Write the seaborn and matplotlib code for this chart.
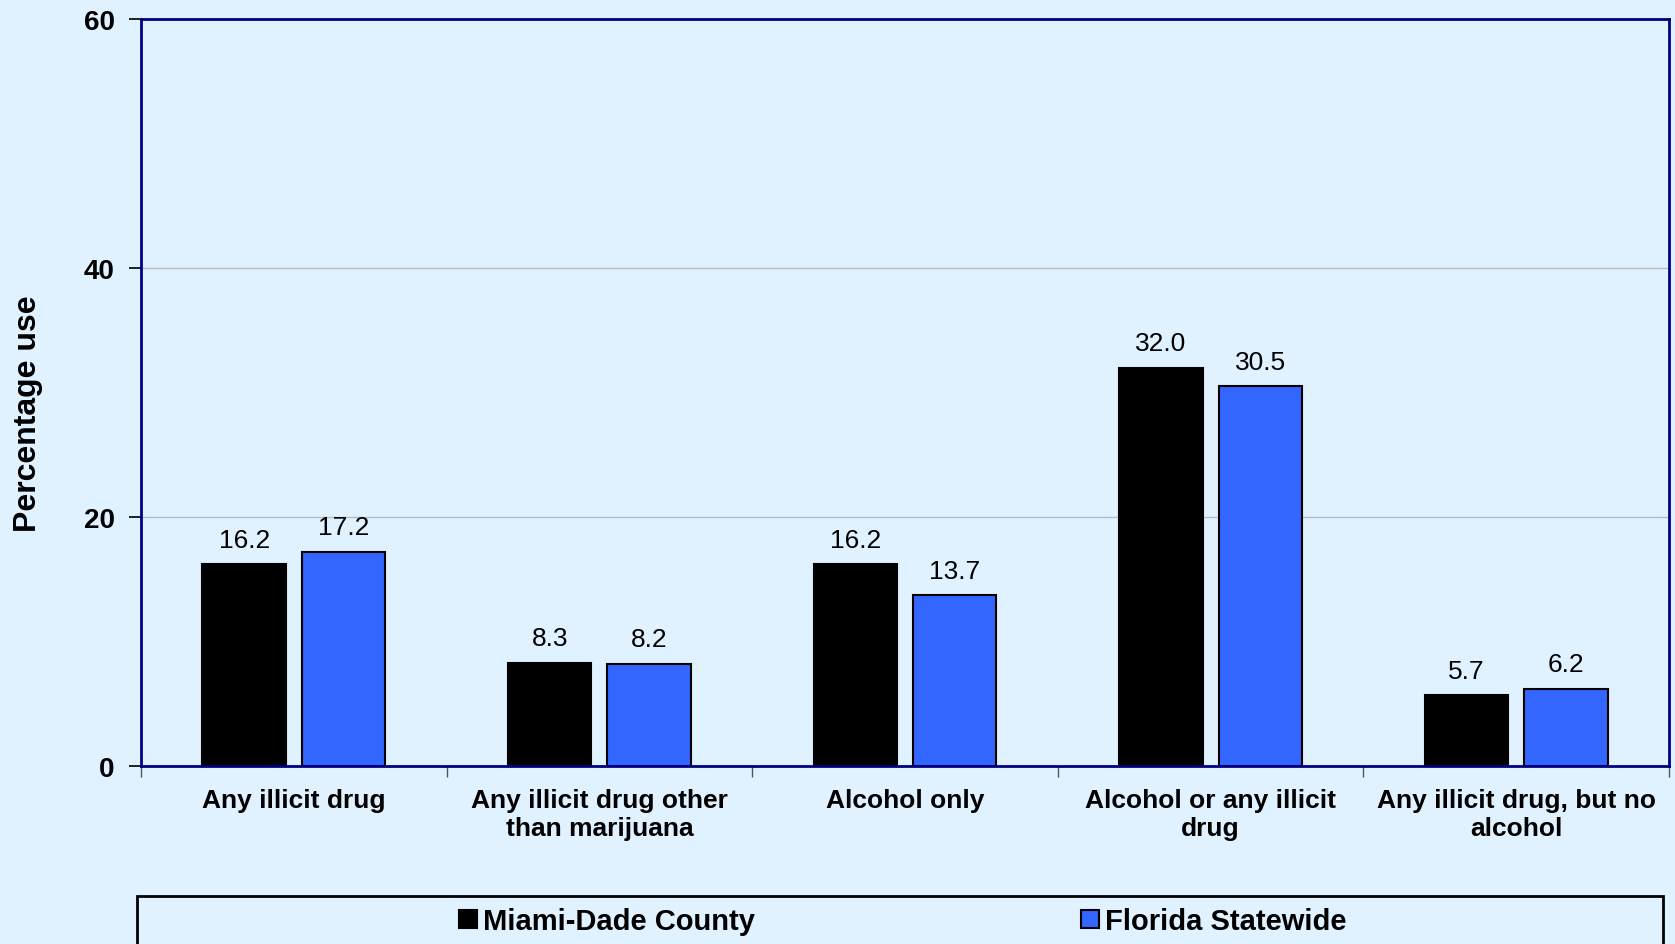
import matplotlib
matplotlib.use("Agg")
import matplotlib.pyplot as plt
from matplotlib.patches import Rectangle
from matplotlib.ticker import FixedLocator
import seaborn as sns
import pandas as pd

# данные
categories = [
    "Any illicit drug",
    "Any illicit drug other\nthan marijuana",
    "Alcohol only",
    "Alcohol or any illicit\ndrug",
    "Any illicit drug, but no\nalcohol",
]
regions = ["Miami-Dade County", "Florida Statewide"]
miami = [16.2, 8.3, 16.2, 32.0, 5.7]
florida = [17.2, 8.2, 13.7, 30.5, 6.2]
y_ticks = [0, 20, 40, 60]

bg = "#E0F2FF"
navy = "#000080"

df = pd.DataFrame({
    "category": categories * 2,
    "region": [regions[0]] * len(categories) + [regions[1]] * len(categories),
    "value": miami + florida,
})

sns.set_theme(style="white")
plt.rcParams["font.family"] = ["Liberation Sans", "DejaVu Sans"]
plt.rcParams["text.color"] = "black"
plt.rcParams["xtick.color"] = "black"
plt.rcParams["ytick.color"] = "black"
plt.rcParams["axes.labelcolor"] = "black"

fig = plt.figure(figsize=(16.75, 9.45), dpi=100, facecolor=bg)
ax = fig.add_axes([0.0842, 0.1884, 0.9122, 0.7904])
ax.set_facecolor(bg)

sns.barplot(data=df, x="category", y="value", hue="region",
            palette=["#000000", "#3366FF"], saturation=1, width=0.65, gap=0.16,
            edgecolor="black", linewidth=1.5, ax=ax)

# подписи значений
for cont in ax.containers:
    ax.bar_label(cont, fmt="%.1f", padding=9, fontsize=19, color="black")

ax.set_xlim(-0.5, 4.5)
ax.set_ylim(0, 60)
ax.set_yticks(y_ticks)
ax.set_yticklabels([str(t) for t in y_ticks], fontsize=20, fontweight="bold")
ax.yaxis.grid(True, color="#BBBBBB", linewidth=1)
ax.set_axisbelow(True)

ax.set_xlabel("")
ax.set_ylabel("Percentage use", fontsize=23, fontweight="bold")
ax.yaxis.set_label_coords(-0.064, 0.4735)
ax.set_xticklabels(categories, fontsize=19, fontweight="bold", linespacing=1.2)
ax.tick_params(axis="x", which="major", length=0, pad=16)
ax.xaxis.set_minor_locator(FixedLocator([-0.5, 0.5, 1.5, 2.5, 3.5, 4.5]))
ax.tick_params(axis="x", which="minor", bottom=True, length=8, width=1, color="#555555", direction="out")
ax.tick_params(axis="y", left=True, length=9, width=1.2, color="black", direction="out", pad=10)

for s in ax.spines.values():
    s.set_visible(True)
    s.set_color(navy)
    s.set_linewidth(2)

# легенда
handles, labels = ax.get_legend_handles_labels()
ax.get_legend().remove()
fig.legend(handles, labels, loc="center", bbox_to_anchor=(0.539, 0.024), ncol=2,
           frameon=False, prop={"weight": "bold", "size": 21},
           handlelength=0.6, handleheight=0.6, handletextpad=0.2, columnspacing=11.2)
fig.add_artist(Rectangle((137 / 1675, -0.01), (1663 - 137) / 1675, 0.0508 + 0.01,
                         transform=fig.transFigure, fill=False, edgecolor="black", linewidth=2))

fig.savefig("out.png", dpi=100, facecolor=bg)
